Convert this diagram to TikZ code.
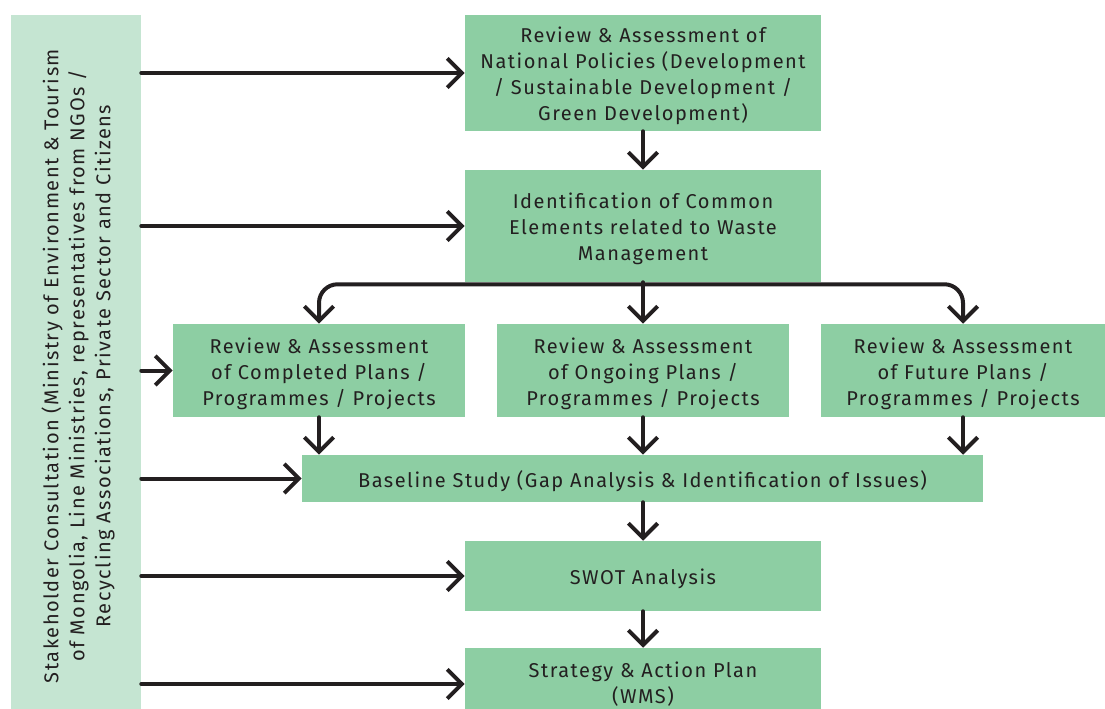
\documentclass[tikz,border=0pt]{standalone}
\usepackage{fontspec}
\setmainfont{Fira Sans}[LetterSpace=7.5]
\usetikzlibrary{arrows.meta}
\definecolor{boxgreen}{HTML}{8DCEA3}
\definecolor{bargreen}{HTML}{C5E5D2}
\definecolor{ink}{HTML}{231F20}
\newcommand{\topstrut}{\rule{0pt}{16pt}}

\begin{document}
\begin{tikzpicture}[x=0.75pt, y=-0.75pt,
	box/.style={fill=boxgreen, text=ink, align=center, inner sep=0pt, font=\fontsize{15}{19.5}\selectfont},
	flow/.style={draw=ink, line width=3pt, line cap=round, line join=round, -{Straight Barb[length=11pt,width=22pt]}}]
	\useasboundingbox (0,0) rectangle (1105,709);
	\node[box, fill=bargreen, minimum width=97.5pt, minimum height=536.25pt] (bar) at (76,372.5) {};
	\node[box, fill=none, rotate=90] (barlabel) at (78,366) {Stakeholder Consultation (Ministry of Environment \& Tourism\\of Mongolia, Line Ministries, representatives from NGOs /\\Recycling Associations, Private Sector and Citizens};
	\node[box, minimum width=267pt, minimum height=87pt] (policies) at (643,73) {\topstrut Review \& Assessment of\\National Policies (Development\\/ Sustainable Development /\\Green Development)};
	\node[box, minimum width=267pt, minimum height=84pt] (common) at (643,226) {\topstrut Identification of Common\\Elements related to Waste\\Management};
	\node[box, minimum width=219pt, minimum height=69.75pt] (completed) at (319,370.5) {\topstrut Review \& Assessment\\of Completed Plans /\\Programmes / Projects};
	\node[box, minimum width=219pt, minimum height=69.75pt] (ongoing) at (643,370.5) {\topstrut Review \& Assessment\\of Ongoing Plans /\\Programmes / Projects};
	\node[box, minimum width=213pt, minimum height=69.75pt] (future) at (963,370.5) {\topstrut Review \& Assessment\\of Future Plans /\\Programmes / Projects};
	\node[box, minimum width=510.75pt, minimum height=35.25pt] (baseline) at (642.5,478.5) {\topstrut Baseline Study (Gap Analysis \& Identification of Issues)};
	\node[box, minimum width=267pt, minimum height=52.5pt] (swot) at (643,576) {\topstrut SWOT Analysis};
	\node[box, minimum width=267pt, minimum height=54pt] (strategy) at (643,684) {Strategy \& Action Plan\\(WMS)};
	\coordinate (split) at ([yshift=-1.5pt]common.south);
	\draw[flow] (bar.east |- policies.west) -- (policies.west);
	\draw[flow] (bar.east |- common.west) -- (common.west);
	\draw[flow] (bar.east |- completed.west) -- (completed.west);
	\draw[flow] (bar.east |- baseline.west) -- (baseline.west);
	\draw[flow] (bar.east |- swot.west) -- (swot.west);
	\draw[flow] (bar.east |- strategy.west) -- (strategy.west);
	\draw[flow] (policies.south) -- (common.north);
	\draw[flow, rounded corners=14pt] (split) -| (completed.north);
	\draw[flow, rounded corners=14pt] (split) -| (future.north);
	\draw[flow] (common.south) -- (ongoing.north);
	\draw[flow] (completed.south) -- (completed.south |- baseline.north);
	\draw[flow] (ongoing.south) -- (ongoing.south |- baseline.north);
	\draw[flow] (future.south) -- (future.south |- baseline.north);
	\draw[flow] (baseline.south -| swot.north) -- (swot.north);
	\draw[flow] (swot.south) -- (strategy.north);
\end{tikzpicture}
\end{document}
